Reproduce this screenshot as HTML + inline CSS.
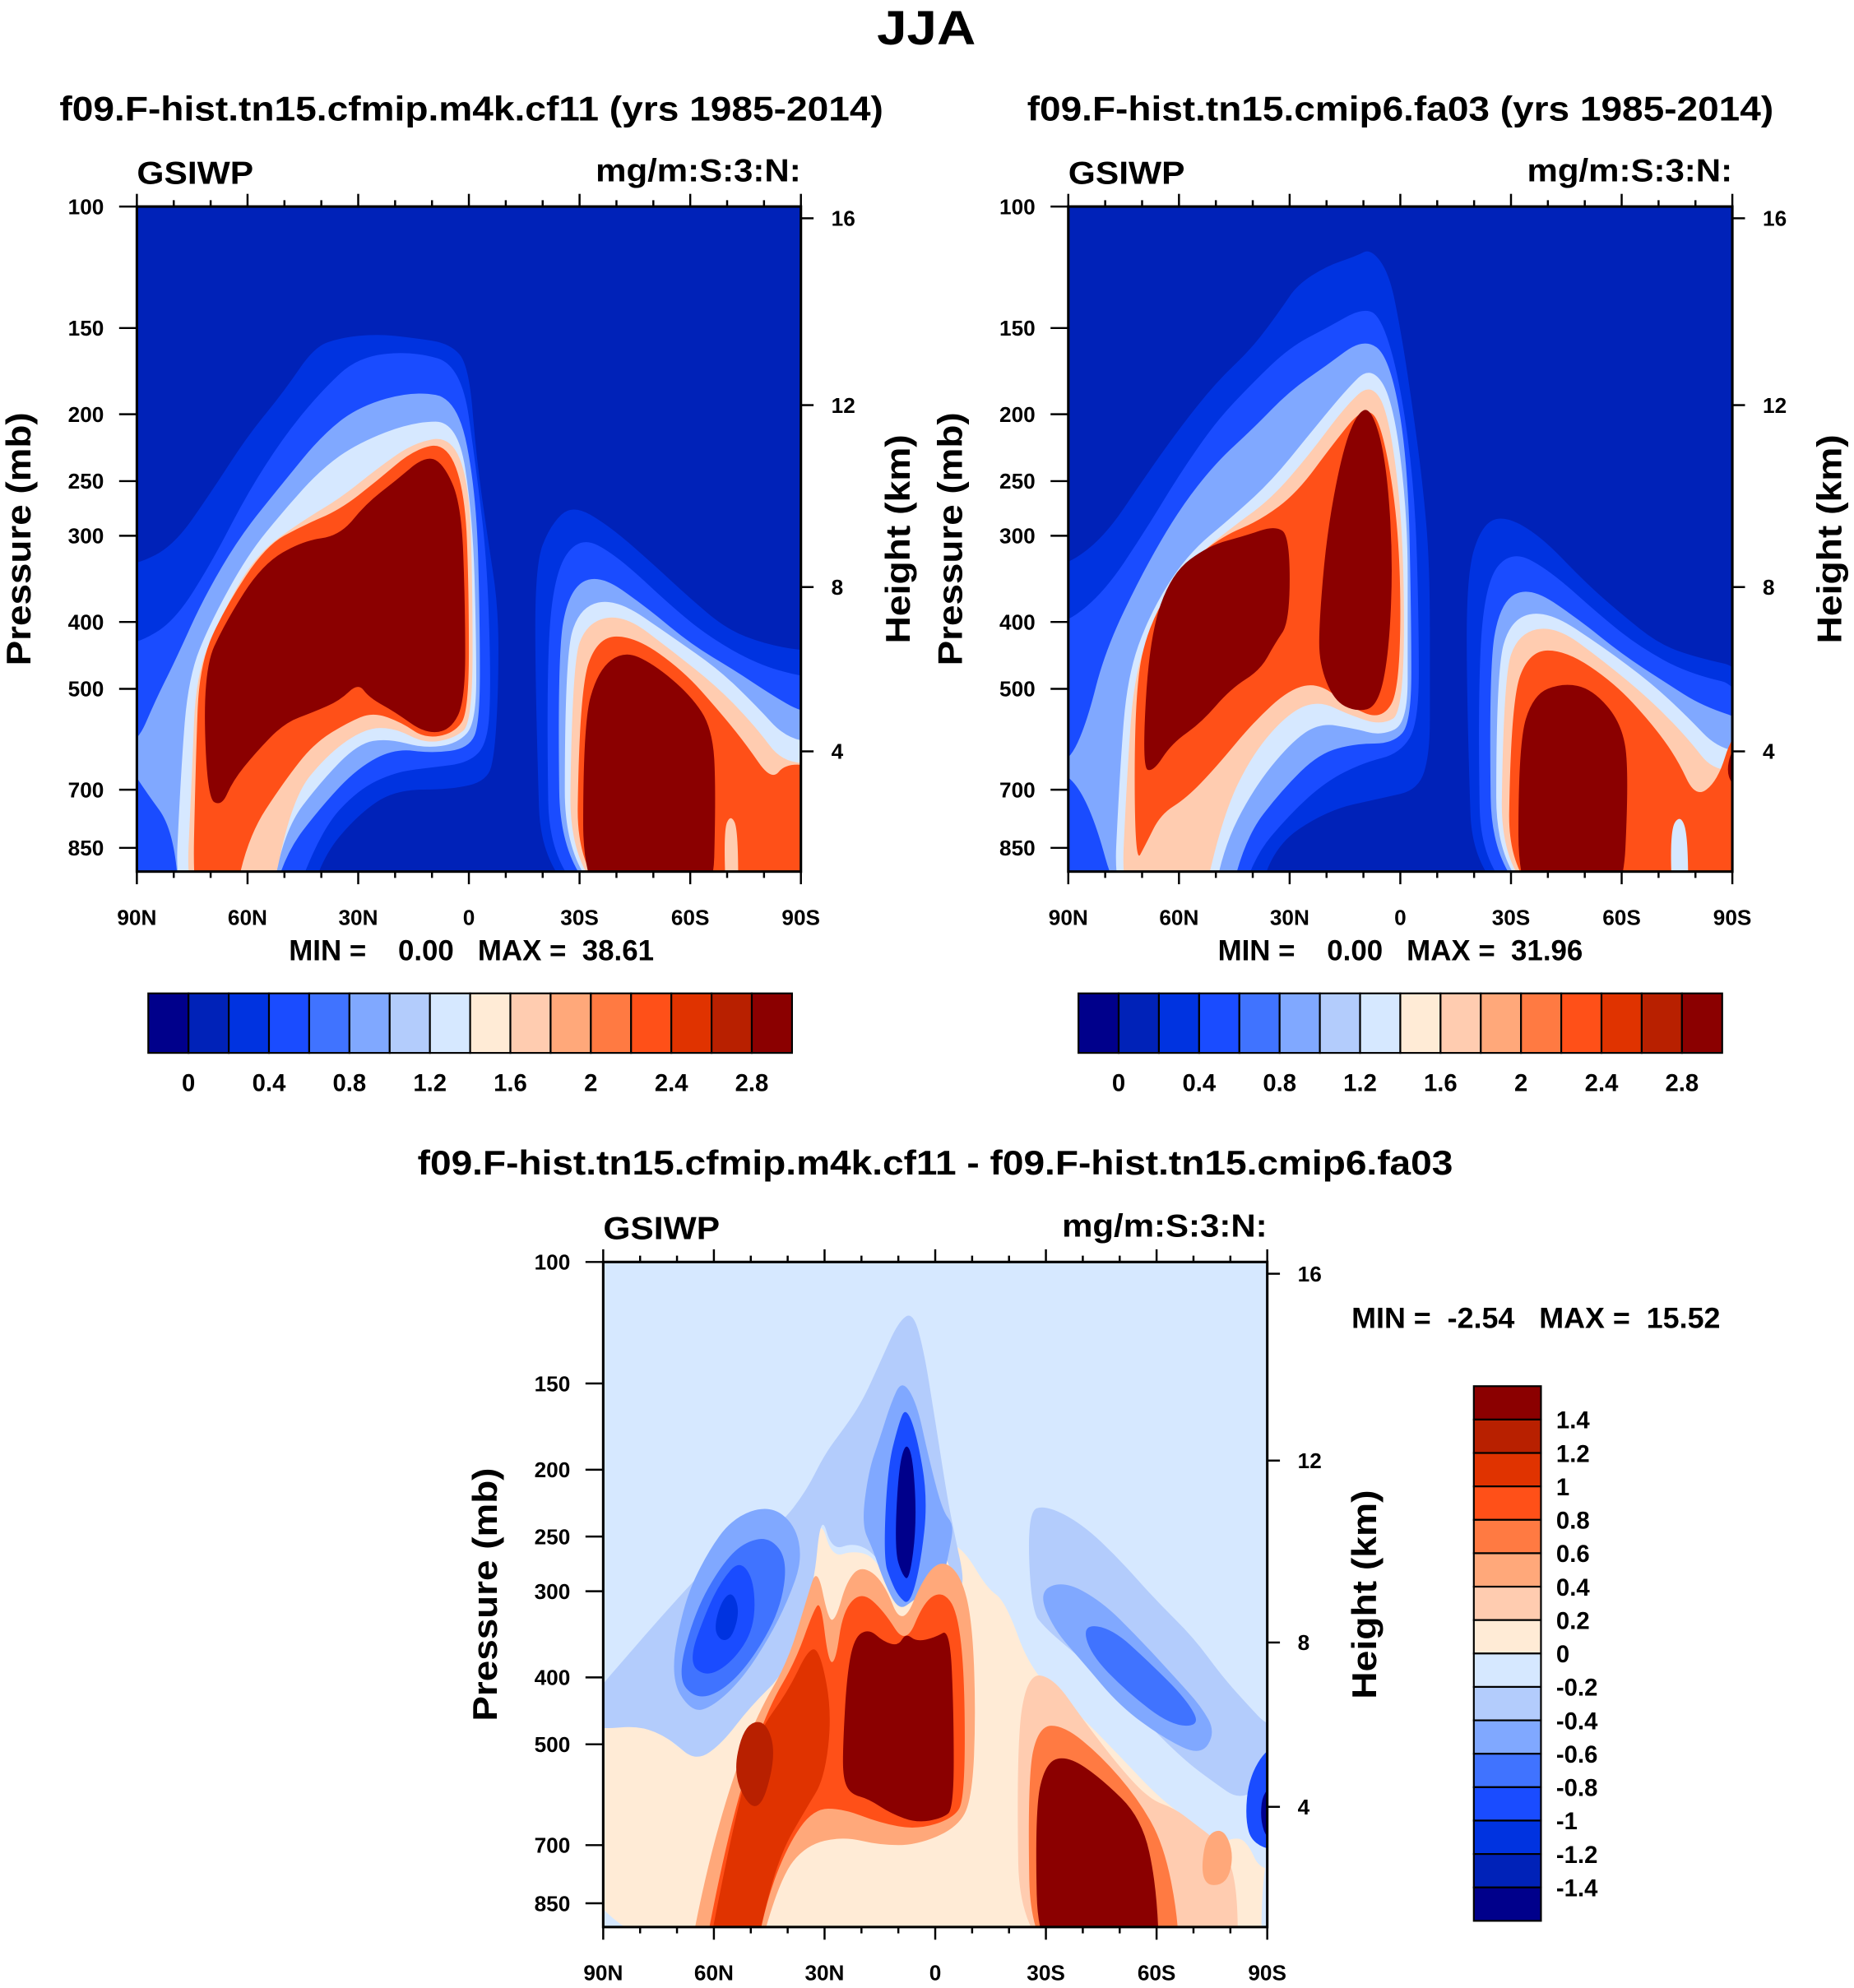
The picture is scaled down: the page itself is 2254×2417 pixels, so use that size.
<!DOCTYPE html>
<html><head><meta charset="utf-8"><style>
html,body{margin:0;padding:0;background:#fff;}
svg{display:block;}
text{font-family:"Liberation Sans",Arial,sans-serif;font-weight:bold;fill:#000;white-space:pre;}
</style></head><body>
<svg id="fig" xmlns="http://www.w3.org/2000/svg" width="2254" height="2417" viewBox="0 0 1463 1569" preserveAspectRatio="none">
<rect x="0" y="0" width="1463" height="1569" fill="#fff"/>
</svg>
<script>
// ---------- data ----------
const colors=["#00008b","#0022b8","#0033e0","#1a4cff","#4073ff","#80a8ff","#b3ccfc","#d6e8ff","#ffebd6","#ffccb0","#ffa87a","#ff7a42","#ff5018","#e03300","#b82000","#8b0000"];
const topLevelLabels=["0","0.4","0.8","1.2","1.6","2","2.4","2.8"];
const diffLevelLabels=["1.4","1.2","1","0.8","0.6","0.4","0.2","0","-0.2","-0.4","-0.6","-0.8","-1","-1.2","-1.4"];
const latTicks=[90,60,30,0,-30,-60,-90];
const latTickLabels=["90N","60N","30N","0","30S","60S","90S"];
const presTicks=[100,150,200,250,300,400,500,700,850];
const hTicks=[16,12,8,4];
const hPres=[104,194,356,616];

const p1=[
[2,[[96,330],[90,330],[80,310],[70,260],[60,215],[50,185],[42,160],[35,155],[25,153],[15,155],[5,158],[0,170],[-2,230],[-5,300],[-8,380],[-8,500],[-7,620],[-5,680],[5,700],[20,700],[30,760],[40,880],[45,1100],[96,1100]]],
[3,[[96,430],[90,430],[80,400],[70,330],[60,260],[50,215],[40,185],[30,165],[15,162],[2,170],[-2,240],[-5,330],[-6,500],[-5,600],[0,640],[10,650],[20,660],[30,700],[40,800],[50,1100],[96,1100]]],
[5,[[96,600],[90,600],[85,520],[80,460],[72,370],[62,300],[50,250],[40,215],[30,195],[15,185],[3,190],[-2,260],[-3,400],[-3,560],[0,610],[10,620],[20,610],[30,650],[40,740],[50,870],[55,1100],[78,1100],[80,800],[88,700]]],
[7,[[80,1100],[78,650],[76,480],[70,400],[60,320],[50,275],[40,240],[30,220],[15,205],[3,205],[-1,280],[-2,420],[-2,560],[3,600],[12,610],[22,590],[30,600],[40,680],[50,800],[55,1100]]],
[9,[[77,1100],[75,650],[74,480],[68,400],[58,320],[45,285],[35,265],[25,240],[15,220],[5,215],[0,250],[-1,350],[-1,560],[4,590],[12,600],[20,570],[28,570],[38,620],[48,720],[55,1100]]],
[12,[[75,1100],[74,620],[73,460],[66,380],[55,310],[45,290],[35,275],[25,250],[15,225],[6,220],[1,260],[0,360],[0,540],[4,580],[12,590],[18,560],[26,540],[33,560],[42,600],[50,680],[60,820],[65,1100]]],
[15,[[71,720],[72,470],[66,400],[56,330],[45,305],[35,300],[28,270],[20,250],[12,230],[7,235],[2,270],[1,380],[1,520],[5,575],[12,580],[20,540],[27,515],[30,490],[35,520],[42,540],[50,560],[58,620],[64,680],[67,740]]],
[2,[[-20,1100],[-18,500],[-18,330],[-22,290],[-28,270],[-38,290],[-50,330],[-60,370],[-70,410],[-80,430],[-90,440],[-96,440],[-96,1100]]],
[3,[[-22,1100],[-21,480],[-23,340],[-30,300],[-40,320],[-55,380],[-65,420],[-78,460],[-90,480],[-96,480],[-96,1100]]],
[5,[[-25,1100],[-24,450],[-27,360],[-35,340],[-48,380],[-60,430],[-72,470],[-82,510],[-90,540],[-96,540],[-96,1100]]],
[7,[[-26,1100],[-26,450],[-30,380],[-40,370],[-55,420],[-68,470],[-78,530],[-86,590],[-96,600],[-96,1100]]],
[9,[[-27,1100],[-28,460],[-32,400],[-42,390],[-55,440],[-68,500],[-78,570],[-85,640],[-96,640],[-96,1100]]],
[12,[[-29,1100],[-30,500],[-35,420],[-45,420],[-58,470],[-68,540],[-75,600],[-82,680],[-86,640],[-96,650],[-96,1100]]],
[15,[[-31,1100],[-31,560],[-35,470],[-42,440],[-50,460],[-60,510],[-66,570],[-67,700],[-66,1100]]],
[9,[[-70,1100],[-69,800],[-71,760],[-73,800],[-73,1100]]]
];
const p2=[
[2,[[96,330],[90,330],[80,300],[70,250],[60,210],[50,180],[40,160],[32,140],[28,130],[20,122],[12,118],[8,115],[3,125],[0,150],[-3,190],[-6,250],[-8,330],[-8,500],[-8,620],[-5,700],[5,720],[20,750],[35,850],[40,1100],[96,1100]]],
[3,[[96,400],[90,400],[80,360],[70,300],[60,245],[50,205],[40,180],[30,160],[20,150],[10,140],[5,145],[0,180],[-4,260],[-5,400],[-5,560],[0,620],[10,640],[20,680],[30,760],[40,880],[45,1100],[96,1100]]],
[5,[[96,640],[90,640],[85,560],[80,440],[70,340],[60,275],[50,235],[40,210],[30,185],[20,170],[10,155],[3,165],[-2,230],[-3,400],[-3,560],[2,600],[12,600],[22,620],[32,700],[42,820],[48,1100],[75,1100],[85,700]]],
[7,[[78,1100],[76,650],[74,480],[68,390],[58,320],[45,280],[35,250],[25,215],[15,185],[8,170],[2,190],[-2,280],[-2,420],[-2,560],[5,585],[13,570],[22,560],[30,600],[40,700],[48,850],[52,1100]]],
[9,[[76,1100],[74,650],[72,470],[65,380],[55,320],[45,290],[35,265],[25,230],[15,195],[8,180],[3,200],[-1,300],[-1,540],[5,565],[14,545],[22,520],[30,540],[40,620],[48,760],[55,1100]]],
[12,[[72,900],[72,500],[68,400],[58,330],[48,300],[38,285],[28,260],[18,220],[10,195],[5,205],[0,300],[0,500],[5,555],[14,530],[22,490],[30,500],[40,560],[50,650],[58,720],[65,760],[69,840]]],
[15,[[70,650],[68,420],[62,340],[52,310],[42,300],[34,290],[30,300],[30,400],[34,430],[38,470],[46,500],[54,560],[62,600],[67,660]]],
[15,[[22,400],[20,300],[16,230],[12,200],[8,195],[4,230],[2,320],[3,440],[6,530],[12,540],[18,520],[22,460]]],
[2,[[-20,1100],[-18,520],[-18,340],[-22,290],[-28,280],[-38,300],[-50,350],[-60,390],[-70,430],[-80,450],[-96,470],[-96,1100]]],
[3,[[-22,1100],[-21,500],[-23,350],[-30,315],[-40,335],[-55,395],[-65,435],[-78,475],[-96,500],[-96,1100]]],
[5,[[-25,1100],[-24,470],[-27,375],[-35,355],[-48,395],[-60,445],[-72,490],[-82,530],[-96,560],[-96,1100]]],
[7,[[-26,1100],[-26,470],[-30,395],[-40,385],[-55,435],[-68,490],[-78,550],[-86,610],[-96,620],[-96,1100]]],
[9,[[-27,1100],[-28,480],[-32,415],[-42,405],[-55,455],[-68,520],[-78,590],[-85,660],[-96,650],[-96,1100]]],
[12,[[-29,1100],[-30,520],[-35,440],[-45,440],[-58,490],[-68,560],[-75,630],[-80,720],[-86,680],[-90,580],[-96,560],[-96,1100]]],
[15,[[-32,1100],[-32,600],[-36,510],[-44,490],[-52,500],[-60,560],[-62,660],[-60,1100]]],
[15,[[-96,620],[-90,600],[-88,680],[-96,720]]],
[7,[[-74,1100],[-73,800],[-76,760],[-78,820],[-78,1100]]]
];
const p3bg=7;
const p3=[
[8,[[96,470],[85,460],[75,470],[68,520],[62,470],[56,416],[44,345],[35,268],[31,235],[28,268],[22,262],[16,268],[9,320],[2,262],[-2.5,253],[-8,262],[-14,297],[-19,310],[-26,393],[-38,447],[-50,520],[-61,600],[-70,650],[-76,700],[-82,680],[-85,700],[-88,760],[-96,760],[-96,1100],[96,1100]]],
[6,[[96,470],[92,420],[85,380],[75,330],[68,300],[60,270],[50,255],[42,240],[35,215],[30,190],[25,175],[20,160],[15,140],[10,122],[6,118],[3,135],[0,170],[-3,215],[-5,245],[-8,290],[-6,300],[-2,258],[2,255],[9,310],[16,265],[22,255],[28,262],[31,230],[33,300],[40,390],[50,440],[58,500],[65,530],[72,490],[80,470],[90,475]]],
[5,[[72,400],[68,310],[62,265],[55,235],[45,225],[38,240],[36,270],[40,310],[45,350],[52,400],[60,440],[66,450]]],
[4,[[70,400],[65,320],[58,275],[52,255],[45,250],[40,270],[42,320],[50,380],[58,420],[65,430]]],
[3,[[67,380],[62,320],[58,290],[53,270],[49,290],[49,340],[55,380],[62,400]]],
[2,[[60,340],[58,310],[55,300],[53,320],[55,350],[58,355]]],
[5,[[20,240],[18,200],[15,180],[12,160],[9,148],[5,160],[2,190],[-2,230],[-5,240],[-4,260],[-2,290],[3,300],[6,310],[10,320],[14,290],[17,260]]],
[3,[[14,270],[13,200],[10,172],[8,162],[5,178],[2,220],[4,275],[7,315],[10,305],[12,290]]],
[0,[[11,262],[10,200],[8,182],[6,192],[5,240],[7,290],[9,284]]],
[6,[[-25,230],[-30,225],[-40,240],[-50,270],[-60,310],[-70,350],[-78,400],[-85,440],[-90,470],[-96,470],[-96,560],[-88,580],[-82,600],[-76,570],[-68,530],[-58,470],[-48,410],[-38,370],[-30,340],[-26,320]]],
[5,[[-28,300],[-35,290],[-45,310],[-55,350],[-65,400],[-72,440],[-76,480],[-72,520],[-62,490],[-50,440],[-40,380],[-32,340]]],
[4,[[-40,335],[-48,340],[-58,380],[-68,430],[-72,470],[-64,470],[-52,420],[-42,370]]],
[3,[[-96,500],[-90,505],[-85,560],[-84,640],[-86,700],[-96,720]]],
[0,[[-96,560],[-89,580],[-88,640],[-90,690],[-96,700]]],
[10,[[68,1100],[62,760],[55,560],[48,450],[40,380],[35,310],[32,275],[29,330],[27,330],[24,290],[20,275],[14,290],[9,340],[3,285],[-2,270],[-7,285],[-10,330],[-11,450],[-10,600],[-6,660],[5,700],[15,700],[25,680],[35,700],[42,780],[50,1100]]],
[12,[[64,1100],[58,750],[52,560],[45,440],[38,380],[33,320],[31,310],[29,380],[27,380],[25,320],[20,300],[14,320],[8,360],[3,310],[-2,300],[-6,320],[-8,400],[-8,600],[-5,640],[5,665],[15,650],[25,620],[33,620],[40,700],[46,850],[50,1100]]],
[13,[[63,1100],[58,800],[53,600],[48,480],[40,420],[34,360],[31,370],[28,450],[30,560],[35,620],[42,720],[47,900],[50,1100]]],
[14,[[55,560],[52,470],[46,460],[43,520],[48,640]]],
[15,[[25,500],[24,400],[22,350],[18,340],[14,355],[10,360],[8,345],[5,355],[0,350],[-4,340],[-5,450],[-5,620],[-2,640],[5,650],[12,630],[18,600],[23,590],[25,560]]],
[9,[[-23,1100],[-22,500],[-25,395],[-32,400],[-40,460],[-50,540],[-58,600],[-65,620],[-70,650],[-78,700],[-82,800],[-82,1100]]],
[11,[[-26,1100],[-25,560],[-28,470],[-35,470],[-45,520],[-55,600],[-62,700],[-66,900],[-66,1100]]],
[15,[[-28,1100],[-27,620],[-30,530],[-36,520],[-45,560],[-56,640],[-60,800],[-61,1100]]],
[10,[[-72,800],[-73,680],[-78,660],[-81,720],[-79,800]]],
[7,[[-96,700],[-89,700],[-88,1100],[-96,1100]]]
];

// ---------- drawing ----------
const NS="http://www.w3.org/2000/svg";
const svg=document.getElementById('fig');
function el(tag,attrs,parent){const e=document.createElementNS(NS,tag);for(const k in attrs)e.setAttribute(k,attrs[k]);(parent||svg).appendChild(e);return e;}
function txt(s,x,y,size,anchor,parent,rot){const t=el('text',{x:x,y:y,'font-size':size,'text-anchor':anchor||'middle'},parent);if(rot)t.setAttribute('transform','rotate(-90 '+x+' '+y+')');t.textContent=s;return t;}
function fit(t,len){t.setAttribute('textLength',len);t.setAttribute('lengthAdjust','spacingAndGlyphs');}
const DEC=544.6, PW=524;
function makeAxes(left,top){
  return {x:lat=>left+(90-lat)/180*PW, y:p=>top+(Math.log10(p)-2)*DEC};
}
function smoothPath(pts){
  const n=pts.length;let d='';
  const mid=(a,b)=>[(a[0]+b[0])/2,(a[1]+b[1])/2];
  const m0=mid(pts[n-1],pts[0]);d='M'+m0[0].toFixed(1)+','+m0[1].toFixed(1);
  for(let i=0;i<n;i++){const p=pts[i],m=mid(p,pts[(i+1)%n]);d+=' Q'+p[0].toFixed(1)+','+p[1].toFixed(1)+' '+m[0].toFixed(1)+','+m[1].toFixed(1);}
  return d+'Z';
}
function panel(id,left,top,bg,contours){
  const ax=makeAxes(left,top);const bottom=ax.y(920);const right=left+PW;
  const g=el('g',{});
  
  
  const cp=el('clipPath',{id:id+'-clip'},g);el('rect',{x:left,y:top,width:PW,height:bottom-top},cp);
  const field=el('g',{'clip-path':'url(#'+id+'-clip)'},g);
  
  
  el('rect',{x:left,y:top,width:PW,height:bottom-top,fill:colors[bg]},field);
  contours.forEach(c=>{
    const pts=c[1].map(q=>[ax.x(q[0]),ax.y(q[1])]);
    const path=el('path',{d:smoothPath(pts),fill:colors[c[0]]},field);
    
    
  });
  const frame=el('rect',{x:left,y:top,width:PW,height:bottom-top,fill:'none',stroke:'#000','stroke-width':2},g);
  
  
  for(let lat=90;lat>=-90;lat-=10){
    const major=lat%30===0, x=ax.x(lat), L=major?10:5;
    el('line',{x1:x,y1:top,x2:x,y2:top-L,stroke:'#000','stroke-width':1.6},g);
    el('line',{x1:x,y1:bottom,x2:x,y2:bottom+L,stroke:'#000','stroke-width':1.6},g);
  }
  latTicks.forEach((lat,i)=>{const t=txt(latTickLabels[i],ax.x(lat),bottom+42,17,'middle',g);
    });
  presTicks.forEach(p=>{const y=ax.y(p);el('line',{x1:left,y1:y,x2:left-14,y2:y,stroke:'#000','stroke-width':1.6},g);
    const t=txt(String(p),left-26,y+6,17,'end',g);});
  hTicks.forEach((h,i)=>{const y=ax.y(hPres[i]);el('line',{x1:right,y1:y,x2:right+10,y2:y,stroke:'#000','stroke-width':1.6},g);
    const t=txt(String(h),right+24,y+6,17,'start',g);});
  const cy=(top+bottom)/2;
  const yt=txt('Pressure (mb)',left-84,cy,27,'middle',g,true);fit(yt,200);
  const ht=txt('Height (km)',right+86,cy,27,'middle',g,true);fit(ht,165);
  const v=txt('GSIWP',left,top-18,25,'start',g);fit(v,92);
  const u=txt('mg/m:S:3:N:',right,top-20,25,'end',g);fit(u,162);
  return g;
}
const t0=txt('JJA',731,35,38,'middle');fit(t0,78);
const a=txt('f09.F-hist.tn15.cfmip.m4k.cf11 (yrs 1985-2014)',372,95,27,'middle');fit(a,650);
const b=txt('f09.F-hist.tn15.cmip6.fa03 (yrs 1985-2014)',1105,95,27,'middle');fit(b,589);
const c=txt('f09.F-hist.tn15.cfmip.m4k.cf11 - f09.F-hist.tn15.cmip6.fa03',738,927,27,'middle');fit(c,817);
panel('panel-cf11',108,163,1,p1);
panel('panel-fa03',843,163,1,p2);
panel('panel-diff',476,996,p3bg,p3);
const m1=txt('MIN =    0.00   MAX =  38.61',372,758,23,'middle');fit(m1,288);
const m2=txt('MIN =    0.00   MAX =  31.96',1105,758,23,'middle');fit(m2,288);
const m3=txt('MIN =  -2.54   MAX =  15.52',1212,1048,23,'middle');fit(m3,291);
function hbar(name,x0,y0,w,h){
  const g=el('g',{});
  const bw=w/colors.length;
  colors.forEach((col,i)=>{const r=el('rect',{x:x0+i*bw,y:y0,width:bw,height:h,fill:col,stroke:'#000','stroke-width':1.4},g);
    });
  topLevelLabels.forEach((s,i)=>{const t=txt(s,x0+bw*(1+2*i),y0+h+30,19,'middle',g);});
}
hbar('colorbar-panel1',117,784,508,47);
hbar('colorbar-panel2',851,784,508,47);
(function(){
  const x0=1163,y0=1094,w=53,h=422;const bh=h/colors.length;
  const g=el('g',{});
  for(let i=0;i<colors.length;i++){const r=el('rect',{x:x0,y:y0+i*bh,width:w,height:bh,fill:colors[colors.length-1-i],stroke:'#000','stroke-width':1.4},g);
    }
  diffLevelLabels.forEach((s,i)=>{const t=txt(s,x0+w+12,y0+bh*(i+1)+7,19,'start',g);});
})();
</script>
</body></html>
